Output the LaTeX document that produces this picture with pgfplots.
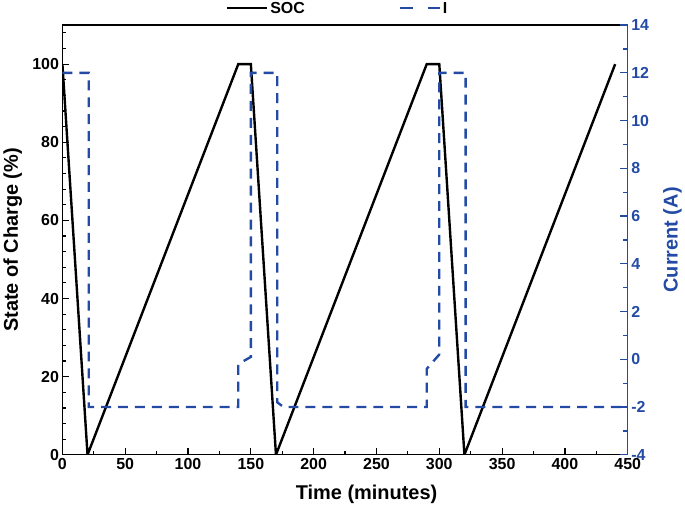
\documentclass[border=0pt]{standalone}
\usepackage{fontspec}
\setmainfont{Liberation Sans}
\usepackage{pgfplots}
\pgfplotsset{compat=1.18}
\definecolor{curblue}{RGB}{35,75,165}
\begin{document}
\begin{tikzpicture}
\pgfplotsset{
  every axis/.append style={
    scale only axis, width=567pt, height=431pt,
    xmin=0, xmax=450,
    tick align=inside,
    major tick length=7pt, minor tick length=4pt,
    axis line style={line width=1.3pt},
    every tick/.style={line width=1.2pt},
    tick label style={font=\fontsize{16}{18}\selectfont\bfseries},
    label style={font=\fontsize{20}{23}\selectfont\bfseries},
    /pgf/number format/assume math mode=true,
  },
}
\begin{axis}[
  ymin=0, ymax=110,
  xtick={0,50,...,450}, minor x tick num=1,
  ytick={0,20,...,120}, minor y tick num=4,
  xtick pos=bottom, ytick pos=left,
  xlabel={Time (minutes)}, ylabel={State of Charge (\%)},
  xlabel style={at={(axis description cs:0.538,-0.093)},anchor=center},
  ylabel style={at={(axis description cs:-0.088,0.5)},anchor=center},
  legend columns=2,
  legend style={draw=none, fill=none, inner sep=0pt,
    at={(axis description cs:0.289,1.039)}, anchor=west,
    font=\fontsize{16}{18}\selectfont\bfseries,
    /tikz/every even column/.append style={column sep=92pt}},
  legend image code/.code={\draw[#1] (0pt,0pt) -- (40pt,0pt);},
]
\addplot[black, line width=2.4pt] coordinates {
  (0,100) (20,0) (140,100) (150,100) (170,0) (290,100) (300,100) (320,0) (440,100)};
\addlegendentry{SOC}
\addlegendimage{curblue, line width=2.4pt, dash pattern=on 13pt off 15pt}
\addlegendentry{I}
\end{axis}
\begin{axis}[
  ymin=-4, ymax=14,
  ytick={-4,-2,...,14}, minor y tick num=1,
  axis x line=none,
  axis y line*=right,
  tick align=inside,
  y axis line style={curblue},
  ytick style={curblue},
  major tick length=8pt, minor tick length=5pt,
  yticklabel style={curblue},
  ylabel={Current (A)},
  ylabel style={curblue, at={(axis description cs:1.079,0.5)},anchor=center, rotate=0},
]
\addplot[curblue, line width=2.4pt, dash pattern=on 10pt off 7pt] coordinates {
  (0,12) (21,12) (21,-2) (140,-2) (140,-0.2) (150,0.1) (150,12) (171,12)
  (171,-1.8) (176,-2) (290,-2) (290,-0.4) (300,0.2) (300,12) (321,12)
  (321,-2) (450,-2)};
\end{axis}
\end{tikzpicture}
\end{document}
